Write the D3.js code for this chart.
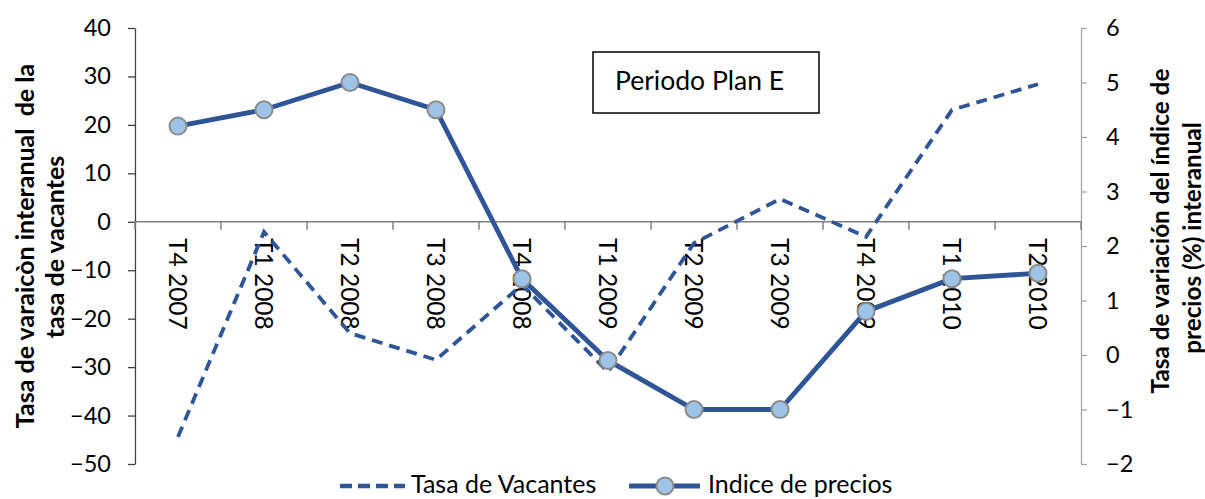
<!DOCTYPE html>
<html><head><meta charset="utf-8">
<script src="https://cdn.jsdelivr.net/npm/d3@7"></script>
<style>
body{margin:0;background:#fff;}
svg{display:block;font-family:Lato,"Open Sans",sans-serif;}
</style></head>
<body>
<svg id="chart" width="1205" height="499"></svg>
<script>
const categories = ["T4 2007","T1 2008","T2 2008","T3 2008","T4 2008","T1 2009","T2 2009","T3 2009","T4 2009","T1 2010","T2 2010"];
const vacantes = [-44.4, -2.1, -23, -28.5, -13, -31, -4.4, 4.7, -3.1, 23.1, 28.4];
const precios = [4.2, 4.5, 5.0, 4.5, 1.4, -0.1, -1.0, -1.0, 0.8, 1.4, 1.5];
const leftTicks = [-50,-40,-30,-20,-10,0,10,20,30,40];
const rightTicks = [-2,-1,0,1,2,3,4,5,6];
const seriesNames = ["Tasa de Vacantes","Indice de precios"];
const leftTitle = ["Tasa de varaicòn interanual  de la","tasa de vacantes"];
const rightTitle = ["Tasa de variación del índice de","precios (%) interanual"];
const boxLabel = "Periodo Plan E";

const svg = d3.select("#chart");
const lineColor = "#2f5597";
const markerFill = "#9dc3e6";

const x = d3.scaleBand().domain(categories).range([135,1081]);
const yL = d3.scaleLinear().domain([-50,40]).range([464,28]);
const yR = d3.scaleLinear().domain([-2,6]).range([464,28]);

// left axis
const gL = svg.append("g").attr("transform","translate(135,0)")
  .call(d3.axisLeft(yL).tickValues(leftTicks).tickSize(7).tickPadding(17).tickSizeOuter(0));
gL.select(".domain").attr("stroke","#404040").attr("stroke-width",1.3);
gL.selectAll(".tick line").attr("stroke","#404040").attr("stroke-width",1.3);
gL.selectAll(".tick text").attr("font-size",23.5).attr("fill","#000").attr("font-family","Lato");

// right axis
const gR = svg.append("g").attr("transform","translate(1081,0)")
  .call(d3.axisRight(yR).tickValues(rightTicks).tickSize(6).tickPadding(19).tickSizeOuter(0));
gR.select(".domain").attr("stroke","#a6a6a6").attr("stroke-width",1.3);
gR.selectAll(".tick line").attr("stroke","#a6a6a6").attr("stroke-width",1.3);
gR.selectAll(".tick text").attr("font-size",23.5).attr("fill","#000").attr("font-family","Lato");

// x axis at zero
const y0 = yL(0);
const gX = svg.append("g");
gX.append("line").attr("x1",135).attr("x2",1081).attr("y1",y0).attr("y2",y0)
  .attr("stroke","#808080").attr("stroke-width",1.5);
const bounds = categories.map(c=>x(c)).concat([x(categories[categories.length-1])+x.bandwidth()]);
gX.selectAll("line.tk").data(bounds).join("line").attr("class","tk")
  .attr("x1",d=>d).attr("x2",d=>d).attr("y1",y0).attr("y2",y0+8)
  .attr("stroke","#808080").attr("stroke-width",1.5);
gX.selectAll("text").data(categories).join("text")
  .attr("transform",d=>`translate(${x(d)+x.bandwidth()/2},238) rotate(90)`)
  .attr("dy","0.35em").attr("font-size",24.5).attr("fill","#000").text(d=>d);

// axis titles
function title(lines, xs, ys, size){
  lines.forEach((t,i)=>{
    svg.append("text").attr("transform",`translate(${xs[i]},${ys[i]}) rotate(-90)`)
      .attr("text-anchor","middle").attr("dy","0.35em").attr("font-weight","bold")
      .attr("font-size",size).attr("fill","#000").attr("xml:space","preserve").text(t);
  });
}
title(leftTitle,[25,55],[246,247],25);
title(rightTitle,[1160,1192],[231,238],24.3);

// text box
svg.append("rect").attr("x",593).attr("y",52).attr("width",226).attr("height",61)
  .attr("fill","#fff").attr("stroke","#000").attr("stroke-width",1.5);
svg.append("text").attr("x",615).attr("y",90).attr("font-size",26.5).attr("fill","#000").text(boxLabel);

// vacantes dashed line
const cx = d=>x(d)+x.bandwidth()/2;
svg.append("path").datum(categories.map((c,i)=>[cx(c),yL(vacantes[i])]))
  .attr("d",d3.line()).attr("fill","none").attr("stroke",lineColor)
  .attr("stroke-width",3.8).attr("stroke-dasharray","11,7");

// precios line
const pp = categories.map((c,i)=>[cx(c),yR(precios[i])]);
svg.append("path").datum(pp).attr("d",d3.line()).attr("fill","none")
  .attr("stroke",lineColor).attr("stroke-width",4.8);
svg.selectAll("circle.m").data(pp).join("circle").attr("class","m")
  .attr("cx",d=>d[0]).attr("cy",d=>d[1]).attr("r",8.5)
  .attr("fill",markerFill).attr("stroke","#8c8c8c").attr("stroke-width",2);

// legend
const lg = svg.append("g");
lg.append("line").attr("x1",340).attr("x2",405).attr("y1",486).attr("y2",486)
  .attr("stroke",lineColor).attr("stroke-width",4.5).attr("stroke-dasharray","12,6");
lg.append("text").attr("x",411).attr("y",493).attr("font-size",25).attr("fill","#000").text(seriesNames[0]);
lg.append("line").attr("x1",629).attr("x2",700).attr("y1",486).attr("y2",486)
  .attr("stroke",lineColor).attr("stroke-width",5);
lg.append("circle").attr("cx",665).attr("cy",486).attr("r",8.5)
  .attr("fill",markerFill).attr("stroke","#8c8c8c").attr("stroke-width",2);
lg.append("text").attr("x",708).attr("y",493).attr("font-size",25).attr("fill","#000").text(seriesNames[1]);
</script>
</body></html>
